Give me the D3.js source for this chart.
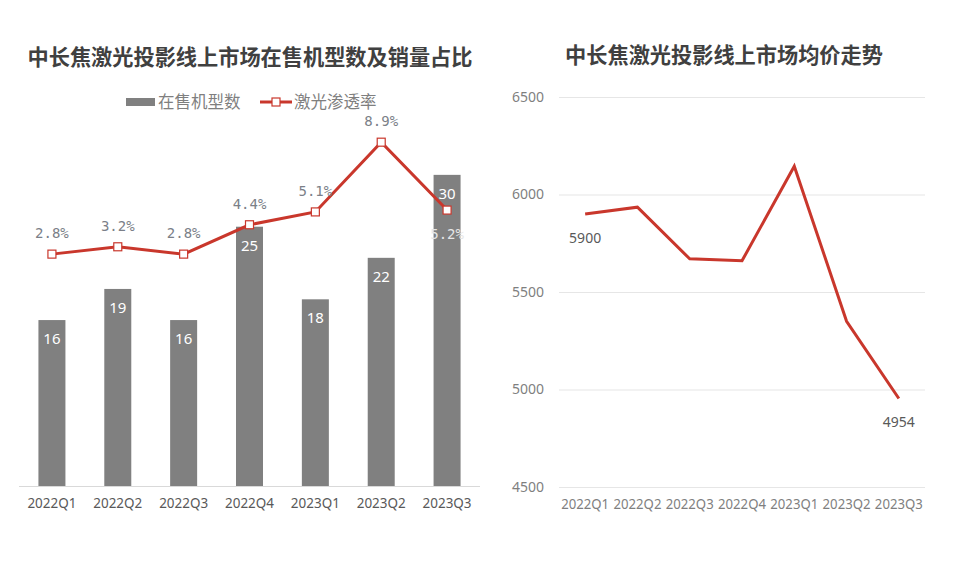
<!DOCTYPE html>
<html>
<head>
<meta charset="utf-8">
<script src="https://cdn.jsdelivr.net/npm/d3@7"></script>
<style>
body{margin:0;background:#fff}
</style>
</head>
<body>
<div id="graph"></div>
<script>
"use strict"
var quarters=['2022Q1','2022Q2','2022Q3','2022Q4','2023Q1','2023Q2','2023Q3']
var modelCounts=[16,19,16,25,18,22,30]
var laserShare=[0.028,0.032,0.028,0.044,0.051,0.089,0.052]
var avgPrice=[5900,5935,5670,5660,6145,5350,4954]
var priceTicks=[4500,5000,5500,6000,6500]

var red='#c9372c'
var grayBar='#808080'
var cjk='"Noto Sans CJK SC","Noto Sans",sans-serif'

var svg=d3.select('#graph').append('svg').attr('width',957).attr('height',580)

// ---- left chart: bars + penetration line
var x1=d3.scaleBand().domain(quarters).range([19,480]).paddingInner(0.59).paddingOuter(0.295)
var yBar=d3.scaleLinear().domain([0,35]).range([486,123])
var yPct=d3.scaleLinear().domain([-0.1,0.1]).range([489,122])

svg.append('text').attr('x',250).attr('y',65).attr('text-anchor','middle')
  .attr('font-family',cjk).attr('font-weight','bold').attr('font-size',21.2).attr('fill','#404040')
  .text('中长焦激光投影线上市场在售机型数及销量占比')

// legend
var lg=svg.append('g').attr('font-family',cjk).attr('font-size',16.5).attr('fill','#7f7f7f')
lg.append('rect').attr('x',126).attr('y',98).attr('width',29).attr('height',8).attr('fill',grayBar)
lg.append('text').attr('x',158).attr('y',108).text('在售机型数')
lg.append('line').attr('x1',260).attr('x2',292).attr('y1',102).attr('y2',102).attr('stroke',red).attr('stroke-width',3)
lg.append('rect').attr('x',272).attr('y',98).attr('width',8).attr('height',8).attr('fill','#fff').attr('stroke',red).attr('stroke-width',1.2)
lg.append('text').attr('x',294).attr('y',108).text('激光渗透率')

svg.append('g').selectAll('rect').data(modelCounts).join('rect')
  .attr('x',function(d,i){return x1(quarters[i])})
  .attr('y',function(d){return yBar(d)})
  .attr('width',x1.bandwidth())
  .attr('height',function(d){return yBar(0)-yBar(d)})
  .attr('fill',grayBar)

svg.append('g').selectAll('text').data(modelCounts).join('text')
  .attr('x',function(d,i){return x1(quarters[i])+x1.bandwidth()/2})
  .attr('y',function(d){return yBar(d)+24})
  .attr('text-anchor','middle').attr('font-family','"Noto Sans",sans-serif').attr('font-size',15)
  .attr('fill','#fff').text(function(d){return d})

var ax1=svg.append('g').attr('transform','translate(0,486)')
  .call(d3.axisBottom(x1).tickSize(0).tickPadding(12))
ax1.select('.domain').attr('stroke','#d9d9d9').attr('stroke-width',1.2).attr('d','M19,0.5H480')
ax1.selectAll('text').attr('font-family','"Noto Sans",sans-serif').attr('font-size',14).attr('fill','#595959')
  .attr('textLength',49).attr('lengthAdjust','spacingAndGlyphs')

var line1=d3.line()
  .x(function(d,i){return x1(quarters[i])+x1.bandwidth()/2})
  .y(function(d){return yPct(d)})
svg.append('path').datum(laserShare).attr('d',line1).attr('fill','none').attr('stroke',red).attr('stroke-width',3)

svg.append('g').selectAll('rect').data(laserShare).join('rect')
  .attr('x',function(d,i){return x1(quarters[i])+x1.bandwidth()/2-4})
  .attr('y',function(d){return yPct(d)-4})
  .attr('width',8).attr('height',8)
  .attr('fill','#fff').attr('stroke',red).attr('stroke-width',1.2)

svg.append('g').selectAll('text').data(laserShare).join('text')
  .attr('x',function(d,i){return x1(quarters[i])+x1.bandwidth()/2})
  .attr('y',function(d,i){return i==quarters.length-1?yPct(d)+29:yPct(d)-16})
  .attr('text-anchor','middle').attr('font-family','"DejaVu Sans Mono",monospace').attr('font-size',14)
  .attr('fill',function(d,i){return i==quarters.length-1?'#e6e6e6':'#7b7f88'})
  .text(function(d){return (d*100).toFixed(1)+'%'})

// ---- right chart: average price
var x2=d3.scaleBand().domain(quarters).range([559,925])
var yPrice=d3.scaleLinear().domain([4500,6500]).range([487,97])

svg.append('text').attr('x',724).attr('y',63).attr('text-anchor','middle')
  .attr('font-family',cjk).attr('font-weight','bold').attr('font-size',21.2).attr('fill','#404040')
  .text('中长焦激光投影线上市场均价走势')

var ay2=svg.append('g').attr('transform','translate(559,0)')
  .call(d3.axisLeft(yPrice).tickValues(priceTicks).tickSize(-366).tickPadding(15).tickFormat(d3.format('d')))
ay2.select('.domain').remove()
ay2.selectAll('line').attr('stroke','#e6e6e6').attr('stroke-width',1.2)
ay2.selectAll('text').attr('font-family','"Noto Sans",sans-serif').attr('font-size',14).attr('fill','#7f7f7f')

var ax2=svg.append('g').attr('transform','translate(0,487)')
  .call(d3.axisBottom(x2).tickSize(0).tickPadding(12))
ax2.select('.domain').remove()
ax2.selectAll('text').attr('font-family','"Noto Sans",sans-serif').attr('font-size',14).attr('fill','#7f7f7f')
  .attr('textLength',48).attr('lengthAdjust','spacingAndGlyphs')

var line2=d3.line()
  .x(function(d,i){return x2(quarters[i])+x2.bandwidth()/2})
  .y(function(d){return yPrice(d)})
svg.append('path').datum(avgPrice).attr('d',line2).attr('fill','none').attr('stroke',red).attr('stroke-width',3)

var ends=[0,avgPrice.length-1]
svg.append('g').selectAll('text').data(ends).join('text')
  .attr('x',function(i){return x2(quarters[i])+x2.bandwidth()/2})
  .attr('y',function(i){return yPrice(avgPrice[i])+29})
  .attr('text-anchor','middle').attr('font-family','"Noto Sans",sans-serif').attr('font-size',14)
  .attr('fill','#595959').text(function(i){return avgPrice[i]})
</script>
</body>
</html>
